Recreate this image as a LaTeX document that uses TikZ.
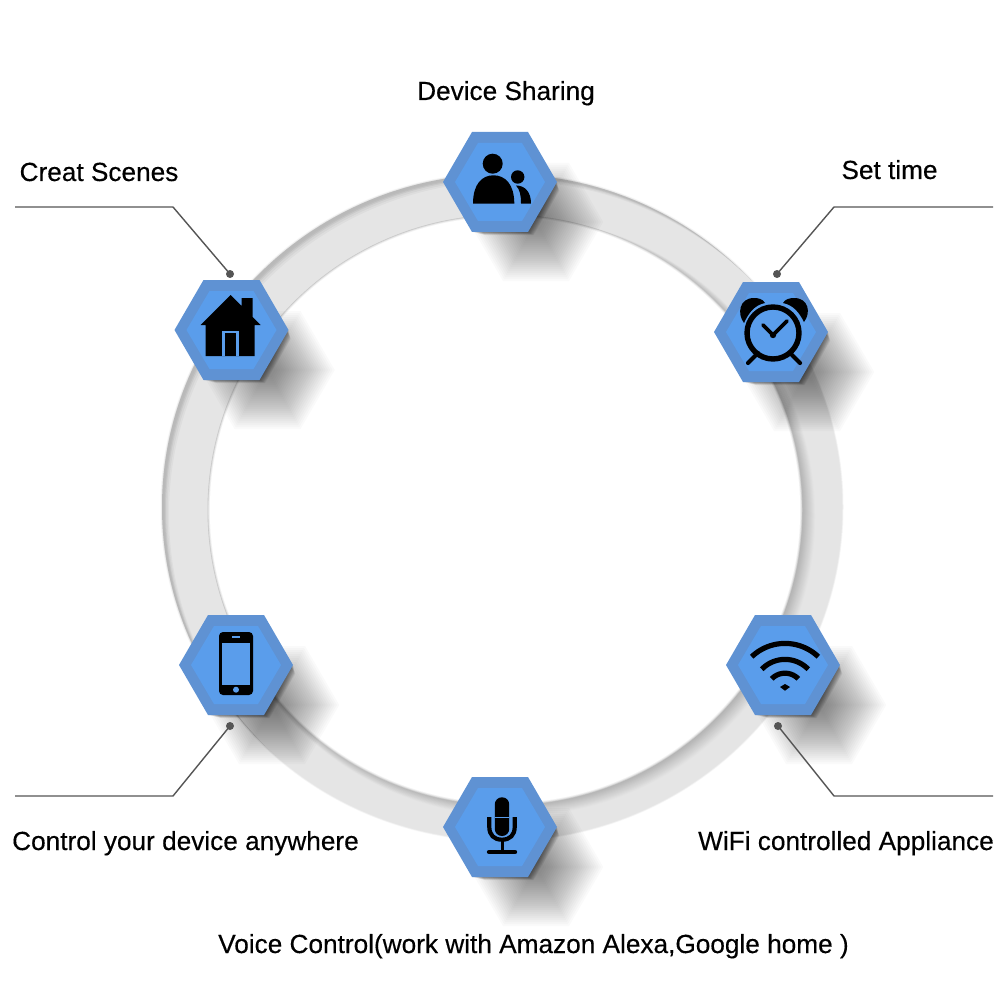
\documentclass[tikz,border=0pt]{standalone}
\usepackage{fontspec}
\setmainfont{Liberation Sans}
\newfontfamily\labfont[FakeBold=0.35]{Liberation Sans}
\definecolor{hexout}{RGB}{95,146,211}
\definecolor{hexin}{RGB}{90,157,235}
\definecolor{leader}{RGB}{85,85,85}
\newcommand{\hexpath}[1]{(-57*#1,0) -- (-28*#1,-50*#1) -- (28*#1,-50*#1) -- (57*#1,0) -- (28*#1,50*#1) -- (-28*#1,50*#1) -- cycle}
\newcommand{\hexbase}[2]{%
  \foreach \i in {0,...,26}{
    \pgfmathsetmacro{\sc}{1.18-0.04*\i}
    \fill[black,opacity=0.018,shift={(#1+36,#2+40)}] \hexpath{\sc};
  }
  \foreach \i in {1,...,10}{
    \pgfmathsetmacro{\sc}{1-0.012*\i}
    \fill[black,opacity=0.05,shift={(#1+0.9*\i,#2+0.9*\i)}] \hexpath{\sc};
  }}
\newcommand{\hexface}[2]{%
  \fill[hexout,shift={(#1,#2)}] \hexpath{1};
  \fill[hexin,shift={(#1,#2)}] (-45,0) -- (-22,-39) -- (22,-39) -- (45,0) -- (22,39) -- (-22,39) -- cycle;}
\tikzset{
  label/.style={anchor=base,inner sep=0pt,font=\labfont\fontsize{26.2}{30}\selectfont,text=black},
  dotn/.style={circle,fill=leader,inner sep=0pt,minimum size=8pt},
  leaderline/.style={draw=leader,line width=1.4pt},
  ink/.style={fill=black,draw=none},
}
\begin{document}
\begin{tikzpicture}[x=1pt,y=-1pt]
\useasboundingbox (0,0) rectangle (1000,1000);
\fill[white] (0,0) rectangle (1000,1000);
% ring: soft outer edge and body
\foreach \k/\g in {1.5/3,1/6,0.5/9,0/10}{
  \fill[black!\g!white] (502,507) ellipse [x radius=340pt+\k pt,y radius=333pt+\k pt];
}
% ring: crescent rim on the upper left
\begin{scope}
  \clip (502,507) ellipse [x radius=340pt,y radius=333pt];
  \foreach \k/\o in {7/0.03,5.5/0.04,4/0.055,3/0.05,2/0.02}{
    \fill[black,opacity=\o,even odd rule] (100,100) rectangle (900,900)
      (502+\k,507+\k) ellipse [x radius=340pt,y radius=333pt];
  }
\end{scope}
% ring: inner shadow (lower right)
\foreach \k in {0,...,15}{
  \pgfmathsetmacro{\rr}{303-\k*0.5}
  \pgfmathsetmacro{\ss}{300-\k*0.45}
  \pgfmathsetmacro{\cc}{513-\k*0.5}
  \pgfmathsetmacro{\dd}{517-\k*0.45}
  \pgfmathsetmacro{\gg}{10+\k*1.5}
  \fill[black!\gg!white] (\cc,\dd) ellipse [x radius=\rr pt,y radius=\ss pt];
}
% ring: white centre with soft edge
\foreach \k/\g in {0/22,1/14,2/8,3/4,4/0}{
  \pgfmathsetmacro{\rr}{297.5-\k*0.6}
  \pgfmathsetmacro{\ss}{295.5-\k*0.6}
  \fill[black!\g!white] (505,510) ellipse [x radius=\rr pt,y radius=\ss pt];
}
% cast shadows
\hexbase{500}{182}
\hexbase{231.5}{330}
\hexbase{771}{332}
\hexbase{236}{665}
\hexbase{783}{665}
\hexbase{500}{827}
% leaders
\node[dotn] (dotA) at (230,274) {};
\coordinate (cornerA) at (173,207);
\coordinate (endA) at (15,207);
\node[dotn] (dotB) at (777,274) {};
\coordinate (cornerB) at (834,207);
\coordinate (endB) at (993,207);
\node[dotn] (dotC) at (230,726) {};
\coordinate (cornerC) at (173,796);
\coordinate (endC) at (15,796);
\node[dotn] (dotD) at (778,726) {};
\coordinate (cornerD) at (834,796);
\coordinate (endD) at (993,796);
\draw[leaderline] (dotA.center) -- (cornerA) -- (endA);
\draw[leaderline] (dotB.center) -- (cornerB) -- (endB);
\draw[leaderline] (dotC.center) -- (cornerC) -- (endC);
\draw[leaderline] (dotD.center) -- (cornerD) -- (endD);
% hexagons
\hexface{500}{182}
\hexface{231.5}{330}
\hexface{771}{332}
\hexface{236}{665}
\hexface{783}{665}
\hexface{500}{827}
% people icon
\begin{scope}[shift={(500,182)}]
  \fill[ink] (-7.3,-18.3) circle[radius=10pt];
  \fill[ink] (-27,21.7) .. controls (-27,2) and (-18,-6.7) .. (-6.5,-6.7) .. controls (5,-6.7) and (14.3,2) .. (14.3,21.7) -- cycle;
  \fill[ink] (17.7,-5) circle[radius=6.7pt];
  \fill[ink] (16,3.5) .. controls (25,3.5) and (31,10) .. (31,21.7) -- (21,21.7) .. controls (21,13) and (20,8) .. (16,3.5) -- cycle;
\end{scope}
% house icon
\begin{scope}[shift={(231.5,330)}]
  \fill[ink] (-1,-35) -- (10,-24) -- (10,-32) -- (21,-32) -- (21,-13) -- (29,-5) -- (23,-5) -- (23,26) -- (-26,26) -- (-26,-5) -- (-31,-5) -- cycle;
  \draw[hexin,line width=2.3pt] (-8,26) -- (-8,2) -- (6,2) -- (6,26);
\end{scope}
% clock icon
\begin{scope}[shift={(771,332)}]
  \draw[black,line width=5.4pt] (2,1) circle[radius=26pt];
  \draw[black,line width=3.8pt,line cap=round,line join=round] (-8,-7) -- (2,3) -- (16,-11);
  \fill[ink] (2,3) circle[radius=3.2pt];
  \fill[ink] (-27,-9) .. controls (-34,-18) and (-32,-34) .. (-17,-34) .. controls (-13,-34) and (-8,-33) .. (-6,-29) .. controls (-16,-27) and (-22,-20) .. (-27,-9) -- cycle;
  \fill[ink] (33,-10) .. controls (40,-19) and (38,-34) .. (23,-34) .. controls (19,-34) and (14,-33) .. (12,-29) .. controls (22,-27) and (28,-20) .. (33,-10) -- cycle;
  \draw[black,line width=4.2pt,line cap=round] (-23,31) -- (-13,21);
  \draw[black,line width=4.2pt,line cap=round] (29,31) -- (21,23);
\end{scope}
% phone icon
\begin{scope}[shift={(236,665)}]
  \fill[ink,rounded corners=4pt] (-17,-33) rectangle (17,30);
  \fill[hexin] (-14.3,-22.3) rectangle (14.3,19.7);
  \fill[hexin] (-4,-28.6) rectangle (4,-26.8);
  \fill[hexin] (0,24.7) circle[radius=3pt];
\end{scope}
% wifi icon
\begin{scope}[shift={(783,665)}]
  \draw[black,line width=5.2pt] plot[domain=-43.6:43.6,samples=24] ({2+48.3*sin(\x)},{26.7-48.3*cos(\x)});
  \draw[black,line width=5.2pt] plot[domain=-46:46,samples=24] ({2+32.3*sin(\x)},{26.7-32.3*cos(\x)});
  \draw[black,line width=5.2pt] plot[domain=-46:46,samples=24] ({2+18.5*sin(\x)},{26.7-18.5*cos(\x)});
  \fill[ink] (-3,22) -- (2,19) -- (7,22) -- (2,25.7) -- cycle;
\end{scope}
% mic icon
\begin{scope}[shift={(500,827)}]
  \fill[ink,rounded corners=7pt] (-5.2,-29.7) rectangle (9.2,9);
  \fill[hexin] (-5.2,-10.2) rectangle (9.2,-9.4);
  \draw[black,line width=4.2pt] (-10.7,-10) -- (-10.7,0) .. controls (-10.7,8) and (-6,12.7) .. (2,12.7) .. controls (10,12.7) and (14.7,8) .. (14.7,0) -- (14.7,-10);
  \draw[black,line width=3pt] (2,12.7) -- (2,25);
  \draw[black,line width=4.4pt,line cap=round] (-11,25) -- (15,25);
\end{scope}
% labels
\node[label] (device) at (506,100) {Device Sharing};
\node[label] (scenes) at (99,181) {Creat Scenes};
\node[label] (settime) at (889.5,179) {Set time};
\node[label] (control) at (185.5,850) {Control your device anywhere};
\node[label] (wifi) at (846,850) {WiFi controlled Appliance};
\node[label] (voice) at (533.5,953) {Voice Control(work with Amazon Alexa,Google home )};
\end{tikzpicture}
\end{document}
